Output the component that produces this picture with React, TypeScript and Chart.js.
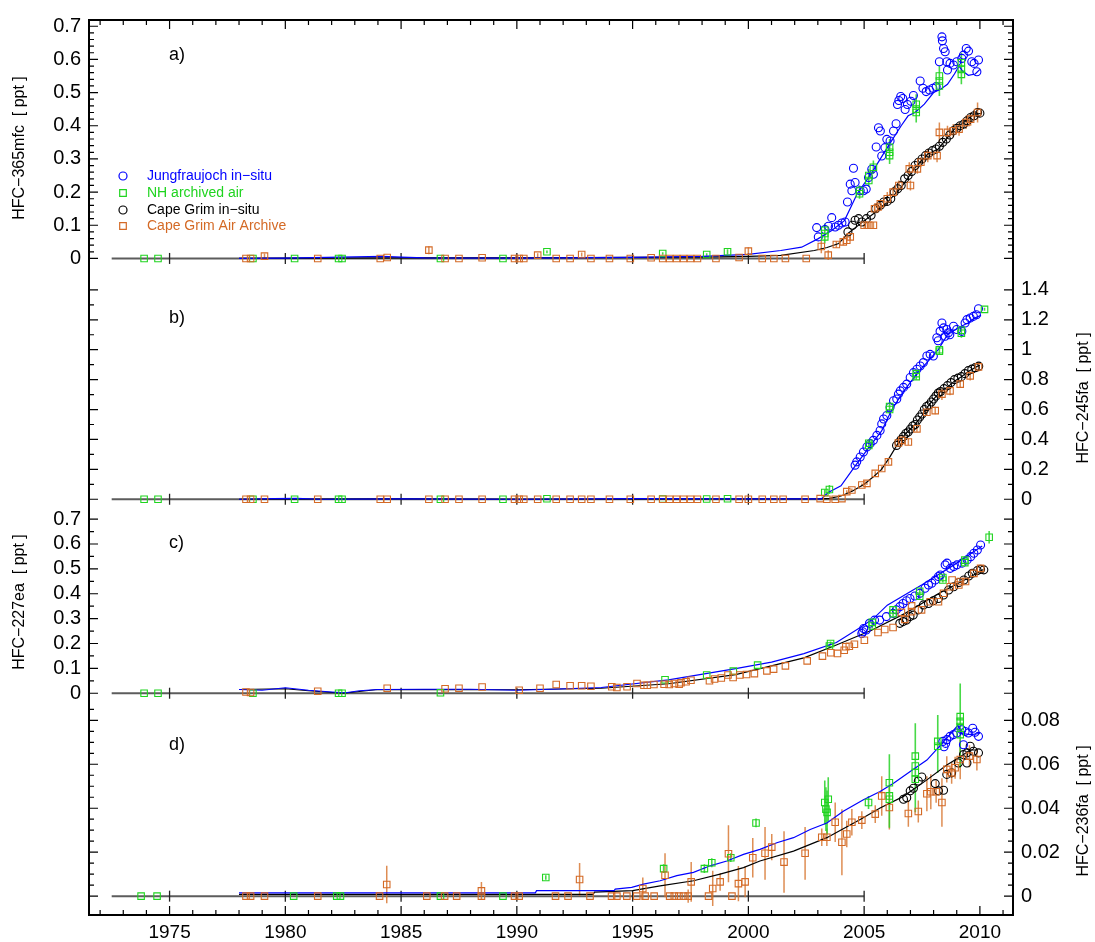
import React, { useEffect, useRef } from 'react';
import { Chart, registerables } from 'chart.js';

Chart.register(...registerables);

const FONT = "'Liberation Sans', Arial, Helvetica, sans-serif";
const BLUE = '#0000ff';
const GREEN = '#1fd41f';
const BLACK = '#000000';
const ORANGE = '#d46a26';
const ORANGE_ERR = 'rgba(214,112,40,0.8)';
const GREEN_ERR = 'rgba(40,210,40,0.85)';
const ZERO_GRAY = '#5c5c5c';

// ---------- x axis ----------
const xMin = 1971.52;
const xMax = 2011.43;
const xMajorTicks = [1975, 1980, 1985, 1990, 1995, 2000, 2005, 2010];
const baselineX = [1972.5, 2005];
const baselineTickX = [1975, 1980, 1985, 1990, 1995, 2000, 2005];

// ---------- tick labels ----------
const aTicks = [0, 0.1, 0.2, 0.3, 0.4, 0.5, 0.6, 0.7];
const bTicks = [0, 0.2, 0.4, 0.6, 0.8, 1, 1.2, 1.4];
const cTicks = [0, 0.1, 0.2, 0.3, 0.4, 0.5, 0.6, 0.7];
const dTicks = [0, 0.02, 0.04, 0.06, 0.08];

const legendLabels = ['Jungfraujoch in−situ', 'NH archived air', 'Cape Grim in−situ', 'Cape Grim Air Archive'];

// ================= Panel a: HFC-365mfc =================
const aNhLineX = [1978, 1980, 1984.2, 1985, 1986, 1990, 1995, 1998, 2000, 2001.4, 2002.3, 2003.0, 2003.6, 2004.15, 2004.7, 2005.3, 2006.0, 2006.6, 2006.9, 2007.2, 2007.6, 2008.0, 2008.3, 2008.6, 2008.9, 2009.1, 2009.25, 2009.5, 2009.8, 2010.0];
const aNhLineY = [0, 0.001, 0.006, 0.004, 0.002, 0.001, 0.003, 0.006, 0.012, 0.024, 0.034, 0.059, 0.084, 0.114, 0.195, 0.255, 0.334, 0.40, 0.43, 0.44, 0.465, 0.50, 0.51, 0.525, 0.556, 0.58, 0.565, 0.552, 0.556, 0.57];
const aShLineX = [1978, 1985, 1990, 1995, 1998, 2000, 2001.4, 2002.85, 2003.4, 2003.9, 2004.3, 2004.9, 2005.4, 2006.0, 2006.6, 2007.2, 2007.75, 2008.2, 2008.6, 2008.9, 2009.3, 2009.75, 2010.05];
const aShLineY = [0, 0.002, 0.002, 0.003, 0.004, 0.006, 0.009, 0.024, 0.033, 0.045, 0.075, 0.108, 0.135, 0.169, 0.214, 0.274, 0.315, 0.33, 0.364, 0.39, 0.41, 0.435, 0.437];
const aJfjX = [2002.95, 2003.02, 2003.31, 2003.46, 2003.6, 2003.75, 2003.89, 2004.04, 2004.18, 2004.28, 2004.4, 2004.47, 2004.61, 2004.54, 2004.83, 2004.97, 2005.09, 2005.19, 2005.33, 2005.4, 2005.52, 2005.62, 2005.7, 2005.76, 2005.9, 2005.98, 2006.12, 2006.27, 2006.38, 2006.44, 2006.5, 2006.58, 2006.67, 2006.77, 2006.87, 2007.02, 2007.13, 2007.42, 2007.54, 2007.68, 2007.82, 2007.97, 2008.11, 2008.25, 2008.36, 2008.38, 2008.43, 2008.5, 2008.57, 2008.71, 2008.86, 2008.6, 2009.29, 2009.41, 2009.51, 2009.65, 2009.75, 2009.94, 2009.87, 2009.22, 2009.0];
const aJfjY = [0.093, 0.065, 0.087, 0.097, 0.123, 0.095, 0.10, 0.107, 0.11, 0.17, 0.224, 0.204, 0.229, 0.272, 0.204, 0.204, 0.209, 0.244, 0.269, 0.254, 0.336, 0.394, 0.384, 0.309, 0.334, 0.359, 0.354, 0.384, 0.406, 0.464, 0.476, 0.488, 0.482, 0.449, 0.464, 0.474, 0.491, 0.535, 0.513, 0.503, 0.508, 0.513, 0.518, 0.593, 0.668, 0.656, 0.633, 0.623, 0.593, 0.588, 0.583, 0.568, 0.613, 0.633, 0.625, 0.593, 0.588, 0.598, 0.563, 0.603, 0.593];
const aNhX = [1973.9, 1974.5, 1978.6, 1980.4, 1982.3, 1982.45, 1986.7, 1989.4, 1991.3, 1996.3, 1998.2, 1999.1, 2003.3, 2003.3, 2003.3, 2004.8, 2004.8, 2005.2, 2005.2, 2005.4, 2006.1, 2006.1, 2006.1, 2007.25, 2007.25, 2007.25, 2008.25, 2008.25, 2008.25, 2009.2, 2009.2, 2009.2];
const aNhY = [0, 0, 0, 0, 0, 0, 0, 0, 0.02, 0.015, 0.012, 0.02, 0.065, 0.075, 0.085, 0.195, 0.205, 0.235, 0.25, 0.275, 0.31, 0.32, 0.335, 0.44, 0.45, 0.465, 0.52, 0.535, 0.55, 0.555, 0.57, 0.59];
const aNhErr = [0, 0, 0, 0, 0, 0, 0, 0, 0.004, 0.004, 0.004, 0.008, 0.02, 0.02, 0.02, 0.015, 0.015, 0.02, 0.02, 0.02, 0.025, 0.025, 0.025, 0.03, 0.03, 0.03, 0.03, 0.03, 0.03, 0.03, 0.03, 0.03];
const aCgX = [2004.3, 2004.5, 2004.61, 2004.76, 2004.9, 2005.1, 2005.3, 2005.5, 2005.7, 2005.85, 2006.0, 2006.15, 2006.3, 2006.45, 2006.6, 2006.75, 2006.9, 2007.05, 2007.2, 2007.35, 2007.5, 2007.65, 2007.8, 2007.95, 2008.1, 2008.25, 2008.4, 2008.55, 2008.7, 2008.85, 2009.0, 2009.15, 2009.3, 2009.45, 2009.6, 2009.75, 2009.9, 2010.0];
const aCgY = [0.08, 0.1, 0.115, 0.12, 0.11, 0.12, 0.13, 0.15, 0.16, 0.17, 0.172, 0.18, 0.2, 0.21, 0.22, 0.24, 0.25, 0.262, 0.28, 0.29, 0.30, 0.31, 0.318, 0.325, 0.33, 0.338, 0.35, 0.36, 0.372, 0.385, 0.392, 0.40, 0.405, 0.415, 0.425, 0.43, 0.44, 0.438];
const aCgaX = [1978.3, 1978.5, 1979.1, 1981.4, 1984.1, 1984.4, 1986.2, 1986.9, 1987.5, 1988.5, 1989.9, 1990.1, 1990.3, 1990.9, 1991.7, 1992.3, 1992.8, 1993.2, 1994.0, 1994.9, 1995.8, 1996.3, 1996.6, 1996.9, 1997.2, 1997.5, 1997.8, 1998.6, 1999.6, 2000.0, 2000.6, 2001.1, 2001.6, 2002.5, 2003.15, 2003.45, 2003.8, 2004.1, 2004.25, 2004.4, 2005.0, 2005.2, 2005.4, 2005.45, 2005.6, 2005.7, 2006.0, 2006.25, 2006.5, 2006.95, 2007.0, 2007.3, 2007.45, 2007.75, 2008.15, 2008.25, 2008.6, 2008.85, 2009.1, 2009.4, 2009.6, 2009.9];
const aCgaY = [0, 0, 0.007, 0, 0, 0.003, 0.025, 0, 0, 0.002, 0, 0, 0, 0.01, 0, 0, 0.012, 0, 0, 0, 0.002, 0, 0, 0, 0, 0, 0, 0, 0.003, 0.022, 0, 0, 0, 0, 0.036, 0.01, 0.042, 0.05, 0.055, 0.065, 0.1, 0.1, 0.1, 0.15, 0.155, 0.165, 0.18, 0.2, 0.22, 0.27, 0.22, 0.27, 0.29, 0.31, 0.31, 0.38, 0.38, 0.385, 0.39, 0.41, 0.42, 0.44];
const aCgaErr = [0, 0, 0.008, 0, 0, 0, 0.012, 0, 0, 0, 0, 0, 0, 0.006, 0, 0, 0.006, 0, 0, 0, 0, 0, 0, 0, 0, 0, 0, 0, 0, 0.012, 0, 0, 0, 0, 0.02, 0.015, 0.01, 0.01, 0.01, 0.01, 0.01, 0.01, 0.01, 0.01, 0.01, 0.01, 0.02, 0.015, 0.015, 0.02, 0.015, 0.015, 0.015, 0.02, 0.02, 0.03, 0.02, 0.02, 0.02, 0.02, 0.02, 0.03];

// ================= Panel b: HFC-245fa =================
const bNhLineX = [1978, 1979.5, 1980.5, 1981.5, 1985, 1990, 1995, 2000, 2003.15, 2003.45, 2004.0, 2004.6, 2005.2, 2005.75, 2006.2, 2006.7, 2007.3, 2007.75, 2008.2, 2008.6, 2009.05, 2009.5, 2009.75, 2010.05];
const bNhLineY = [0, 0.004, 0.006, 0.0, 0.003, 0.0, 0.004, 0.002, 0.002, 0.045, 0.09, 0.22, 0.345, 0.455, 0.6, 0.72, 0.845, 0.92, 1.0, 1.1, 1.145, 1.18, 1.21, 1.23];
const bShLineX = [1978, 1985, 1990, 2000, 2003.0, 2003.5, 2004.0, 2004.5, 2005.0, 2005.4, 2005.75, 2006.1, 2006.45, 2006.8, 2007.2, 2007.5, 2007.75, 2008.0, 2008.3, 2008.6, 2008.9, 2009.2, 2009.5, 2009.9, 2010.0];
const bShLineY = [0, 0.002, 0, 0.002, 0.002, 0.006, 0.022, 0.055, 0.1, 0.15, 0.2, 0.28, 0.37, 0.44, 0.5, 0.56, 0.62, 0.67, 0.72, 0.75, 0.79, 0.82, 0.855, 0.89, 0.895];
const bJfjX = [2004.61, 2004.68, 2004.83, 2004.97, 2005.12, 2005.26, 2005.4, 2005.55, 2005.69, 2005.76, 2005.84, 2005.98, 2006.12, 2006.27, 2006.41, 2006.48, 2006.56, 2006.7, 2006.84, 2006.99, 2007.13, 2007.28, 2007.42, 2007.56, 2007.71, 2007.85, 2007.99, 2008.14, 2008.28, 2008.36, 2008.43, 2008.57, 2008.64, 2008.86, 2009.0, 2009.22, 2009.36, 2009.44, 2009.58, 2009.72, 2009.85, 2009.94, 2008.2, 2008.5, 2008.7];
const bJfjY = [0.228, 0.25, 0.283, 0.316, 0.35, 0.372, 0.394, 0.427, 0.46, 0.504, 0.537, 0.56, 0.615, 0.659, 0.67, 0.703, 0.725, 0.748, 0.77, 0.814, 0.847, 0.869, 0.891, 0.914, 0.958, 0.969, 0.958, 1.08, 1.123, 1.179, 1.146, 1.135, 1.113, 1.157, 1.135, 1.123, 1.179, 1.201, 1.212, 1.223, 1.234, 1.274, 1.06, 1.09, 1.1];
const bNhX = [1973.9, 1974.5, 1978.6, 1980.4, 1982.3, 1982.45, 1986.7, 1989.4, 1991.3, 1996.3, 1998.2, 1999.1, 2003.3, 2003.5, 2005.2, 2005.2, 2006.1, 2006.1, 2007.25, 2007.25, 2008.25, 2008.25, 2009.2, 2009.2, 2010.2];
const bNhY = [0, 0, 0, 0, 0, 0, 0, 0, 0.003, 0.002, 0.002, 0.003, 0.045, 0.065, 0.36, 0.375, 0.6, 0.62, 0.82, 0.84, 0.99, 1.0, 1.11, 1.13, 1.27];
const bNhErr = [0, 0, 0, 0, 0, 0, 0, 0, 0, 0, 0, 0, 0.02, 0.03, 0.02, 0.02, 0.03, 0.03, 0.02, 0.02, 0.02, 0.02, 0.03, 0.03, 0.01];
const bCgX = [2006.4, 2006.5, 2006.6, 2006.7, 2006.8, 2006.9, 2007.0, 2007.1, 2007.2, 2007.3, 2007.4, 2007.5, 2007.6, 2007.7, 2007.8, 2007.9, 2008.0, 2008.1, 2008.2, 2008.3, 2008.45, 2008.6, 2008.75, 2008.9, 2009.05, 2009.2, 2009.35, 2009.5, 2009.65, 2009.8, 2009.95];
const bCgY = [0.36, 0.38, 0.40, 0.42, 0.44, 0.45, 0.47, 0.49, 0.5, 0.53, 0.55, 0.57, 0.6, 0.62, 0.63, 0.65, 0.67, 0.69, 0.71, 0.72, 0.74, 0.76, 0.78, 0.80, 0.81, 0.82, 0.84, 0.86, 0.87, 0.88, 0.89];
const bCgaX = [1978.3, 1978.5, 1979.1, 1981.4, 1984.1, 1984.4, 1986.2, 1986.9, 1987.5, 1988.5, 1989.9, 1990.1, 1990.3, 1990.9, 1991.7, 1992.3, 1992.8, 1993.2, 1994.0, 1994.9, 1995.8, 1996.3, 1996.6, 1996.9, 1997.2, 1997.5, 1997.8, 1998.6, 1999.6, 2000.0, 2000.6, 2001.1, 2001.5, 2002.45, 2003.1, 2003.39, 2003.75, 2004.04, 2004.25, 2004.47, 2004.9, 2005.12, 2005.48, 2005.76, 2006.05, 2006.48, 2006.63, 2006.91, 2007.28, 2007.71, 2008.07, 2008.36, 2008.71, 2009.15, 2009.58, 2009.94];
const bCgaY = [0, 0, 0, 0, 0, 0, 0, 0, 0, 0, 0, 0, 0, 0, 0, 0, 0, 0, 0, 0, 0, 0, 0, 0, 0, 0, 0, 0, 0, 0, 0, 0, 0, 0, 0.004, 0, 0, 0.004, 0.051, 0.062, 0.095, 0.106, 0.173, 0.206, 0.25, 0.376, 0.394, 0.383, 0.471, 0.582, 0.593, 0.703, 0.725, 0.77, 0.825, 0.885];
const bCgaErr = [0, 0, 0, 0, 0, 0, 0, 0, 0, 0, 0, 0, 0, 0, 0, 0, 0, 0, 0, 0, 0, 0, 0, 0, 0, 0, 0, 0, 0, 0, 0, 0, 0, 0, 0, 0, 0, 0, 0.01, 0.01, 0.01, 0.01, 0.015, 0.015, 0.015, 0.02, 0.02, 0.02, 0.02, 0.025, 0.025, 0.04, 0.03, 0.025, 0.03, 0.03];

// ================= Panel c: HFC-227ea =================
const cNhLineX = [1978, 1979, 1980, 1981, 1982, 1982.6, 1983.2, 1984, 1986, 1988, 1990, 1991.5, 1993.65, 1996.55, 1999.45, 2001, 2002.4, 2003.8, 2004.85, 2005.4, 2006.0, 2007.5, 2008.9, 2010.1];
const cNhLineY = [0.015, 0.012, 0.022, 0.012, 0.005, 0.002, 0.01, 0.015, 0.016, 0.016, 0.012, 0.016, 0.023, 0.054, 0.099, 0.125, 0.159, 0.204, 0.265, 0.30, 0.354, 0.436, 0.517, 0.592];
const cShLineX = [1978, 1980, 1981, 1982.5, 1983.5, 1984, 1990, 1993.65, 1996.55, 1999.45, 2002.4, 2003.8, 2005.3, 2006.75, 2008.2, 2009.5, 2010.15];
const cShLineY = [0.015, 0.018, 0.01, 0.0, 0.01, 0.015, 0.014, 0.02, 0.038, 0.075, 0.142, 0.194, 0.252, 0.32, 0.40, 0.463, 0.497];
const cJfjX = [2004.9, 2004.98, 2004.94, 2005.09, 2005.23, 2005.45, 2005.67, 2005.96, 2006.25, 2006.39, 2006.54, 2006.68, 2006.83, 2006.98, 2007.19, 2007.41, 2007.63, 2007.78, 2007.92, 2008.07, 2008.21, 2008.29, 2008.5, 2008.58, 2008.72, 2008.87, 2009.01, 2009.23, 2009.45, 2009.6, 2009.74, 2009.89, 2010.03];
const cJfjY = [0.24, 0.26, 0.247, 0.254, 0.281, 0.294, 0.294, 0.308, 0.321, 0.335, 0.348, 0.361, 0.372, 0.381, 0.391, 0.402, 0.422, 0.435, 0.442, 0.455, 0.469, 0.475, 0.516, 0.523, 0.502, 0.509, 0.516, 0.523, 0.536, 0.549, 0.563, 0.576, 0.596];
const cNhX = [1973.9, 1974.5, 1978.6, 1982.3, 1982.45, 1986.7, 1996.4, 1998.2, 1999.35, 2000.4, 2003.5, 2003.55, 2005.35, 2005.35, 2006.25, 2006.25, 2007.4, 2007.4, 2008.4, 2008.4, 2009.35, 2009.35, 2010.4];
const cNhY = [0, 0, 0, 0, 0, 0.002, 0.054, 0.073, 0.089, 0.113, 0.19, 0.2, 0.27, 0.285, 0.32, 0.335, 0.39, 0.41, 0.455, 0.465, 0.525, 0.535, 0.627];
const cNhErr = [0, 0, 0, 0, 0, 0, 0, 0, 0, 0, 0.008, 0.008, 0.01, 0.01, 0.01, 0.01, 0.012, 0.012, 0.01, 0.01, 0.01, 0.01, 0.025];
const cCgX = [2006.54, 2006.68, 2006.83, 2006.98, 2007.12, 2007.34, 2007.56, 2007.78, 2007.99, 2008.21, 2008.43, 2008.65, 2008.87, 2009.09, 2009.31, 2009.52, 2009.67, 2009.89, 2010.03, 2010.17];
const cCgY = [0.281, 0.288, 0.294, 0.308, 0.314, 0.335, 0.355, 0.361, 0.372, 0.381, 0.395, 0.415, 0.428, 0.445, 0.455, 0.471, 0.482, 0.493, 0.498, 0.496];
const cCgaX = [1978.3, 1978.5, 1981.4, 1984.4, 1986.9, 1987.5, 1988.5, 1990.1, 1991.0, 1991.7, 1992.3, 1992.8, 1993.2, 1994.1, 1994.32, 1994.76, 1995.19, 1995.49, 1995.63, 1995.92, 1996.36, 1996.58, 1996.8, 1997.01, 1997.09, 1997.31, 1997.52, 1998.32, 1998.54, 1998.83, 1999.12, 1999.34, 1999.63, 1999.92, 2000.26, 2000.8, 2001.09, 2001.6, 2002.54, 2003.2, 2003.56, 2003.85, 2004.14, 2004.21, 2004.36, 2004.58, 2005.01, 2005.6, 2005.89, 2006.25, 2006.61, 2006.76, 2007.05, 2007.05, 2007.48, 2007.85, 2008.21, 2008.43, 2008.72, 2008.8, 2009.09, 2009.16, 2009.38, 2009.74, 2010.03];
const cCgaY = [0.005, 0.003, 0.008, 0.02, 0.018, 0.02, 0.025, 0.012, 0.02, 0.035, 0.03, 0.03, 0.028, 0.026, 0.023, 0.026, 0.039, 0.032, 0.032, 0.035, 0.036, 0.035, 0.039, 0.036, 0.042, 0.046, 0.052, 0.05, 0.057, 0.061, 0.073, 0.063, 0.073, 0.075, 0.079, 0.09, 0.097, 0.11, 0.13, 0.149, 0.163, 0.16, 0.173, 0.187, 0.189, 0.197, 0.213, 0.244, 0.256, 0.264, 0.325, 0.297, 0.351, 0.328, 0.335, 0.368, 0.368, 0.402, 0.428, 0.455, 0.435, 0.449, 0.449, 0.482, 0.502];
const cCgaErr: number[] = [];

// ================= Panel d: HFC-236fa =================
const dNhLineX = [1978, 1990.8, 1990.85, 1994.2, 1994.25, 1994.96, 1995.47, 1996.19, 1996.91, 1997.63, 1998.35, 1999.07, 1999.79, 2000.5, 2001.23, 2001.95, 2002.67, 2003.39, 2004.1, 2004.97, 2005.69, 2006.27, 2006.99, 2007.71, 2008.43, 2009.05, 2009.25, 2009.6, 2010.0];
const dNhLineY = [0.0015, 0.0015, 0.0025, 0.0025, 0.0032, 0.004, 0.0055, 0.007, 0.0093, 0.0108, 0.0138, 0.016, 0.019, 0.0213, 0.0243, 0.0266, 0.0303, 0.0333, 0.0386, 0.0439, 0.0476, 0.0514, 0.0567, 0.0619, 0.0702, 0.0777, 0.074, 0.0735, 0.074];
const dShLineX = [1978, 1993.3, 1993.35, 1995.0, 1996.19, 1997.63, 1998.78, 1999.79, 2000.5, 2001.95, 2003.39, 2004.83, 2005.69, 2006.7, 2007.71, 2008.57, 2009.15, 2009.58, 2009.87];
const dShLineY = [0.0008, 0.0008, 0.0018, 0.0025, 0.0047, 0.007, 0.01, 0.013, 0.016, 0.0205, 0.0266, 0.0349, 0.0401, 0.0454, 0.0529, 0.0597, 0.0634, 0.0665, 0.0665];
const dJfjX = [2008.4, 2008.57, 2008.71, 2008.86, 2009.0, 2009.22, 2009.36, 2009.5, 2009.69, 2009.79, 2009.94, 2009.29, 2008.45, 2008.52];
const dJfjY = [0.0704, 0.0712, 0.0727, 0.0735, 0.0742, 0.0757, 0.0749, 0.0742, 0.0764, 0.0746, 0.0727, 0.0689, 0.068, 0.0695];
const dNhX = [1973.77, 1974.46, 1980.36, 1982.22, 1982.38, 1986.7, 1989.4, 1991.25, 1996.34, 1998.1, 1998.42, 1999.24, 2000.33, 2003.3, 2003.35, 2003.4, 2003.45, 2005.19, 2006.09, 2006.09, 2006.09, 2007.21, 2007.21, 2007.21, 2007.21, 2008.18, 2008.18, 2009.15, 2009.15, 2009.15, 2009.15];
const dNhY = [0, 0, 0, 0, 0, 0, 0, 0.0085, 0.0125, 0.0125, 0.0152, 0.0175, 0.0333, 0.0426, 0.0396, 0.0381, 0.0441, 0.0426, 0.0516, 0.0456, 0.0441, 0.0637, 0.0592, 0.0562, 0.0532, 0.0704, 0.0682, 0.0817, 0.0795, 0.0772, 0.0735];
const dNhErr = [0, 0, 0, 0, 0, 0, 0, 0.001, 0.002, 0.002, 0.002, 0.002, 0.002, 0.01, 0.01, 0.01, 0.01, 0.003, 0.013, 0.013, 0.013, 0.015, 0.015, 0.015, 0.015, 0.012, 0.012, 0.015, 0.015, 0.015, 0.015];
const dCgX = [2006.7, 2006.84, 2006.99, 2007.13, 2007.34, 2007.49, 2008.07, 2008.21, 2008.43, 2008.57, 2008.78, 2009.07, 2009.29, 2009.44, 2009.58, 2009.72, 2009.94, 2009.44];
const dCgY = [0.0441, 0.0448, 0.0479, 0.0491, 0.0524, 0.0542, 0.0512, 0.0479, 0.0482, 0.0554, 0.0561, 0.0606, 0.0644, 0.0652, 0.0682, 0.0659, 0.0652, 0.0606];
const dCgaX = [1978.3, 1978.5, 1979.1, 1981.4, 1984.07, 1984.38, 1986.11, 1986.88, 1987.4, 1988.47, 1988.47, 1989.9, 1990.1, 1991.67, 1992.21, 1992.71, 1993.16, 1994.09, 1994.32, 1994.75, 1995.18, 1995.44, 1995.54, 1995.93, 1996.4, 1996.6, 1996.8, 1997.0, 1997.2, 1997.4, 1997.53, 1998.28, 1998.46, 1998.78, 1999.14, 1999.29, 1999.57, 1999.86, 2000.19, 2000.72, 2001.01, 2001.54, 2002.45, 2003.17, 2003.39, 2003.75, 2004.04, 2004.25, 2004.47, 2004.9, 2005.48, 2005.76, 2006.09, 2006.91, 2007.34, 2007.71, 2007.88, 2008.11, 2008.36, 2008.57, 2008.78, 2008.93, 2009.15, 2009.55, 2009.87];
const dCgaY = [0, 0, 0, 0, 0, 0.0053, 0, 0, 0, 0.0024, 0, 0, 0, 0, 0, 0.0076, 0, 0, 0, 0, 0, 0.0035, 0, 0, 0.0095, 0, 0, 0, 0, 0, 0.0065, 0, 0.0035, 0.0065, 0.0193, 0, 0.0057, 0.0065, 0.0175, 0.0195, 0.0223, 0.0155, 0.0195, 0.0268, 0.0268, 0.0336, 0.0245, 0.0283, 0.0336, 0.0346, 0.0373, 0.0456, 0.0403, 0.0376, 0.0385, 0.0466, 0.0475, 0.0475, 0.0426, 0.0577, 0.0561, 0.0584, 0.0622, 0.0637, 0.0622];
const dCgaErr = [0, 0, 0, 0, 0, 0.0085, 0, 0, 0, 0.004, 0, 0, 0, 0, 0, 0.0075, 0, 0, 0, 0, 0, 0.005, 0, 0, 0.01, 0, 0, 0, 0, 0.003, 0.009, 0, 0.008, 0.004, 0.013, 0, 0.008, 0.007, 0.009, 0.012, 0.006, 0.014, 0.012, 0.004, 0.004, 0.009, 0.015, 0.006, 0.006, 0.004, 0.004, 0.009, 0.01, 0.006, 0.005, 0.008, 0.008, 0.005, 0.011, 0.006, 0.005, 0.005, 0.009, 0.005, 0.005];

// ---------- panel layout/config ----------
const panels = [
  { key: 'A', letter: 'a)', title: 'HFC−365mfc  [ ppt ]', labelSide: 'left', min: -0.0559, max: 0.7188, weight: 259, ticks: aTicks, minorStep: 0.02, letterY: 55, titleY: 148,
    nhLine: [aNhLineX, aNhLineY], shLine: [aShLineX, aShLineY], jfj: [aJfjX, aJfjY], nh: [aNhX, aNhY, aNhErr], cg: [aCgX, aCgY], cga: [aCgaX, aCgaY, aCgaErr] },
  { key: 'B', letter: 'b)', title: 'HFC−245fa  [ ppt ]', labelSide: 'right', min: -0.0597, max: 1.4864, weight: 233, ticks: bTicks, minorStep: 0.1, letterY: 318, titleY: 398,
    nhLine: [bNhLineX, bNhLineY], shLine: [bShLineX, bShLineY], jfj: [bJfjX, bJfjY], nh: [bNhX, bNhY, bNhErr], cg: [bCgX, bCgY], cga: [bCgaX, bCgaY, bCgaErr] },
  { key: 'C', letter: 'c)', title: 'HFC−227ea  [ ppt ]', labelSide: 'left', min: -0.0499, max: 0.7439, weight: 199, ticks: cTicks, minorStep: 0.05, letterY: 543, titleY: 602,
    nhLine: [cNhLineX, cNhLineY], shLine: [cShLineX, cShLineY], jfj: [cJfjX, cJfjY], nh: [cNhX, cNhY, cNhErr], cg: [cCgX, cCgY], cga: [cCgaX, cCgaY, cCgaErr] },
  { key: 'D', letter: 'd)', title: 'HFC−236fa  [ ppt ]', labelSide: 'right', min: -0.00858, max: 0.08668, weight: 211, ticks: dTicks, minorStep: 0.005, letterY: 745, titleY: 811,
    nhLine: [dNhLineX, dNhLineY], shLine: [dShLineX, dShLineY], jfj: [dJfjX, dJfjY], nh: [dNhX, dNhY, dNhErr], cg: [dCgX, dCgY], cga: [dCgaX, dCgaY, dCgaErr] },
];

const pts = (xs: number[], ys: number[]) => xs.map((x, i) => ({ x, y: ys[i] }));
const bars = (xs: number[], ys: number[], es: number[]) =>
  xs.flatMap((x, i) => ((es[i] ?? 0) > 0 ? [{ x, y: ys[i] - es[i] }, { x, y: ys[i] + es[i] }, { x, y: null as any }] : []));
const fmt = (v: any) => String(Math.round(Number(v) * 1000) / 1000);

function buildDatasets() {
  const markers: any[] = [];
  const lines: any[] = [];
  const errs: any[] = [];
  const bases: any[] = [];
  panels.forEach((p) => {
    const yAxisID = 'y' + p.key;
    const mk = (data: any, color: string, style: string, r: number) => ({
      data, yAxisID, showLine: false, clip: false, pointStyle: style, pointRadius: r, pointHoverRadius: r,
      pointBorderColor: color, pointBackgroundColor: 'rgba(0,0,0,0)', pointBorderWidth: 1.1, borderColor: color,
    });
    markers.push(mk(pts(p.cga[0], p.cga[1]), ORANGE, 'rect', 4.6));
    markers.push(mk(pts(p.nh[0], p.nh[1]), GREEN, 'rect', 4.6));
    markers.push(mk(pts(p.jfj[0], p.jfj[1]), BLUE, 'circle', 4));
    markers.push(mk(pts(p.cg[0], p.cg[1]), BLACK, 'circle', 4));
    const ln = (data: any, color: string, w: number) => ({
      data, yAxisID, showLine: true, clip: false, borderColor: color, borderWidth: w, pointRadius: 0, tension: 0, fill: false, spanGaps: false,
    });
    lines.push(ln(pts(p.nhLine[0], p.nhLine[1]), BLUE, 1.2));
    lines.push(ln(pts(p.shLine[0], p.shLine[1]), BLACK, 1.2));
    errs.push(ln(bars(p.nh[0], p.nh[1], p.nh[2]), GREEN_ERR, 1.6));
    errs.push(ln(bars(p.cga[0], p.cga[1], p.cga[2]), ORANGE_ERR, 1.5));
    bases.push({
      data: baselineTickX.map((x) => ({ x, y: 0 })), yAxisID, showLine: false, clip: false,
      pointStyle: 'line', pointRotation: 90, pointRadius: 5.5, pointBorderColor: '#222', pointBorderWidth: 1.3,
    });
    bases.push(ln(baselineX.map((x) => ({ x, y: 0 })), ZERO_GRAY, 2));
  });
  return [...markers, ...lines, ...errs, ...bases];
}

const decorPlugin = {
  id: 'decor',
  afterDraw(chart: any) {
    const { ctx, chartArea: ca } = chart;
    const xs = chart.scales.x;
    ctx.save();
    ctx.strokeStyle = '#000';
    ctx.lineWidth = 1.2;
    ctx.beginPath();
    for (let yr = Math.ceil(xMin); yr <= Math.floor(xMax); yr++) {
      const px = xs.getPixelForValue(yr);
      const len = yr % 5 === 0 ? 9 : 5;
      ctx.moveTo(px, ca.top); ctx.lineTo(px, ca.top + len);
      ctx.moveTo(px, ca.bottom); ctx.lineTo(px, ca.bottom - len);
    }
    panels.forEach((p) => {
      const s = chart.scales['y' + p.key];
      const n = Math.floor(p.max / p.minorStep + 1e-6);
      for (let i = 0; i <= n; i++) {
        const v = i * p.minorStep;
        const major = p.ticks.some((t) => Math.abs(t - v) < 1e-6);
        const py = s.getPixelForValue(v);
        const len = major ? 9 : 5;
        ctx.moveTo(ca.left, py); ctx.lineTo(ca.left + len, py);
        ctx.moveTo(ca.right, py); ctx.lineTo(ca.right - len, py);
      }
    });
    ctx.stroke();
    ctx.lineWidth = 2;
    ctx.strokeRect(ca.left, ca.top, ca.right - ca.left, ca.bottom - ca.top);

    // panel letters
    ctx.fillStyle = '#000';
    ctx.font = `18px ${FONT}`;
    ctx.textAlign = 'left';
    ctx.textBaseline = 'middle';
    panels.forEach((p) => ctx.fillText(p.letter, 169, p.letterY));

    // axis titles
    ctx.font = `16px ${FONT}`;
    ctx.textAlign = 'center';
    panels.forEach((p) => {
      const tx = p.labelSide === 'left' ? 20 : 1084;
      ctx.save();
      ctx.translate(tx, p.titleY);
      ctx.rotate(-Math.PI / 2);
      ctx.fillText(p.title, 0, 0);
      ctx.restore();
    });

    // legend
    const entries = [
      { label: legendLabels[0], color: BLUE, style: 'circle' },
      { label: legendLabels[1], color: GREEN, style: 'rect' },
      { label: legendLabels[2], color: BLACK, style: 'circle' },
      { label: legendLabels[3], color: ORANGE, style: 'rect' },
    ];
    const rowY = [176, 193, 210, 226];
    ctx.font = `14px ${FONT}`;
    ctx.textAlign = 'left';
    entries.forEach((e, i) => {
      const y = rowY[i];
      ctx.strokeStyle = e.color;
      ctx.lineWidth = 1.2;
      ctx.beginPath();
      if (e.style === 'circle') ctx.arc(123, y, 4, 0, Math.PI * 2);
      else ctx.rect(119.7, y - 3.3, 6.6, 6.6);
      ctx.stroke();
      ctx.fillStyle = e.color;
      ctx.fillText(e.label, 147, y);
    });
    ctx.restore();
  },
};

export default function App() {
  const ref = useRef<HTMLCanvasElement | null>(null);
  useEffect(() => {
    if (!ref.current) return;
    const scales: any = {
      x: {
        type: 'linear', position: 'bottom', min: xMin, max: xMax,
        grid: { display: false, drawTicks: false }, border: { display: false },
        afterBuildTicks: (s: any) => { s.ticks = xMajorTicks.map((v) => ({ value: v })); },
        afterFit: (s: any) => { s.height = 27; },
        ticks: { autoSkip: false, maxRotation: 0, padding: 6, color: '#000', font: { family: FONT, size: 19 }, callback: (v: any) => String(v) },
      },
    };
    panels.forEach((p, i) => {
      const mkAxis = (side: string, show: boolean, w: number) => ({
        type: 'linear', position: side, stack: side === 'left' ? 'L' : 'R', stackWeight: p.weight, weight: w,
        min: p.min, max: p.max, offset: false,
        grid: { display: false, drawTicks: false }, border: { display: false },
        afterBuildTicks: (s: any) => { s.ticks = p.ticks.map((v) => ({ value: v })); },
        afterFit: (s: any) => { s.width = side === 'left' ? 89 : 82; },
        ticks: { display: show, autoSkip: false, padding: 8, color: '#000', font: { family: FONT, size: 20 }, callback: fmt },
      });
      scales['y' + p.key] = mkAxis('left', p.labelSide === 'left', 4 - i);
      scales['y' + p.key + 'r'] = mkAxis('right', p.labelSide === 'right', i + 1);
    });
    const chart = new Chart(ref.current, {
      type: 'scatter',
      data: { datasets: buildDatasets() },
      options: {
        responsive: false,
        animation: false,
        events: [],
        layout: { padding: { top: 13, left: 0, right: 0, bottom: 0 } },
        plugins: { legend: { display: false }, tooltip: { enabled: false }, title: { display: false } },
        scales,
      } as any,
      plugins: [decorPlugin],
    } as any);
    return () => chart.destroy();
  }, []);
  return (
    <div style={{ position: 'absolute', left: 0, top: 0, width: 1095, height: 942, background: '#fff' }}>
      <canvas ref={ref} width={1095} height={942} style={{ display: 'block' }} />
    </div>
  );
}
